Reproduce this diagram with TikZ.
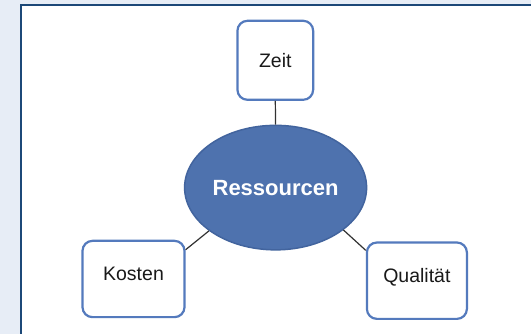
\documentclass[tikz,border=0pt]{standalone}
\usepackage{fontspec}
\setmainfont{Liberation Sans}
\usetikzlibrary{shapes.geometric,calc}
\definecolor{bgblue}{RGB}{231,237,246}
\definecolor{framenavy}{RGB}{28,72,120}
\definecolor{boxblue}{RGB}{84,122,189}
\definecolor{ellfill}{RGB}{78,114,174}
\definecolor{elldraw}{RGB}{66,100,158}
\definecolor{linegray}{RGB}{50,50,50}
\definecolor{txt}{RGB}{25,25,25}
\begin{document}
\begin{tikzpicture}[x=1pt,y=-1pt,
  leafbox/.style={draw=boxblue, line width=2.2pt, rounded corners=10pt, fill=white,
    inner sep=0pt, font=\fontsize{19.5}{22}\selectfont, text=txt},
  hub/.style={ellipse, draw=elldraw, line width=1.5pt, fill=ellfill, inner sep=0pt,
    minimum width=182pt, minimum height=124.5pt, text=white,
    font=\bfseries\fontsize{22}{26}\selectfont},
  link/.style={draw=linegray, line width=1.2pt}]
\useasboundingbox (0,0) rectangle (531,334);
\clip (0,0) rectangle (531,334);
\fill[bgblue] (0,0) rectangle (531,334);
\draw[framenavy, line width=2pt, fill=white] (21,5.2) rectangle (545,345);
\node[leafbox, minimum width=75.7pt, minimum height=79pt] (z) at (275.3,60.3) {Zeit};
\node[leafbox, minimum width=102pt, minimum height=76.3pt, text depth=10pt] (k) at (133.5,279) {Kosten};
\node[leafbox, minimum width=100pt, minimum height=76.4pt, text depth=10pt] (q) at (416.9,280.7) {Qualität};
\node[hub] (r) at (275.6,187.6) {Ressourcen};
\draw[link] (z.south) -- (r.north);
\draw[link] ($(k.north east)+(0,10)$) -- (r.213);
\draw[link] (r.328) -- ($(q.north west)+(0,9)$);
\end{tikzpicture}
\end{document}
